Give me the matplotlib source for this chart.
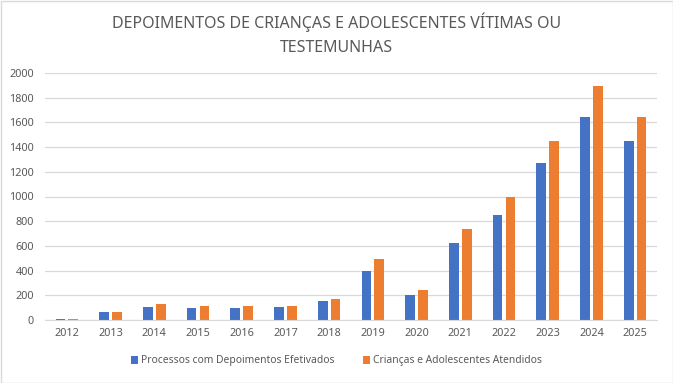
import matplotlib.pyplot as plt
import numpy as np

anos = ['2012', '2013', '2014', '2015', '2016', '2017', '2018',
        '2019', '2020', '2021', '2022', '2023', '2024', '2025']
processos = [10, 65, 105, 97, 97, 105, 153, 400, 200, 620, 850, 1275, 1645, 1450]
atendidos = [10, 65, 130, 113, 113, 113, 172, 490, 240, 740, 1000, 1450, 1895, 1645]

plt.rcParams['font.family'] = ['Noto Sans', 'DejaVu Sans']
cinza = '#595959'

fig = plt.figure(figsize=(6.73, 3.83), dpi=100)
ax = fig.add_axes([45 / 673, 1 - 320 / 383, 612 / 673, 247 / 383])

x = np.arange(len(anos))
w = 0.22
ax.bar(x - 0.1475, processos, w, color='#4472C4', label='Processos com Depoimentos Efetivados')
ax.bar(x + 0.1475, atendidos, w, color='#ED7D31', label='Crianças e Adolescentes Atendidos')

ax.set_xlim(-0.5, len(anos) - 0.5)
ax.set_ylim(0, 2000)
ax.set_yticks(range(0, 2001, 200))
ax.set_xticks(x)
ax.set_xticklabels(anos)
ax.tick_params(axis='both', length=0, labelsize=7.8, colors=cinza)
ax.tick_params(axis='y', pad=8)
ax.tick_params(axis='x', pad=6)
ax.grid(axis='y', color='#D9D9D9', linewidth=0.9)
ax.set_axisbelow(True)
for s in ['top', 'right', 'left']:
    ax.spines[s].set_visible(False)
ax.spines['bottom'].set_color('#D9D9D9')

fig.text(0.5, 1 - 34 / 383, 'DEPOIMENTOS DE CRIANÇAS E ADOLESCENTES VÍTIMAS OU\nTESTEMUNHAS',
         ha='center', va='center', fontsize=11.5, color=cinza, linespacing=1.65)

leg = fig.legend(loc='center', bbox_to_anchor=(0.5, 1 - 361 / 383), ncol=2, frameon=False,
                 fontsize=7.4, handlelength=0.7, handleheight=0.7, handletextpad=0.3,
                 columnspacing=2.8, labelcolor=cinza)

fig.patches.append(plt.Rectangle((0.5 / 673, 0.5 / 383), 672 / 673, 382 / 383,
                                 transform=fig.transFigure, fill=False,
                                 edgecolor='#D9D9D9', linewidth=1))

fig.savefig('out.png', dpi=100)
